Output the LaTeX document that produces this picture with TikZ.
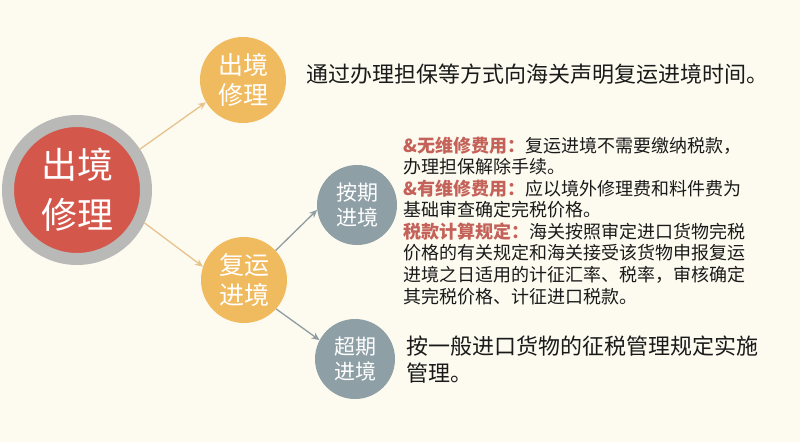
\documentclass[tikz,border=0pt]{standalone}
\usepackage{fontspec}
\newfontfamily\cjk{Noto Sans CJK SC}
\usetikzlibrary{arrows.meta}
\definecolor{bg}{HTML}{FDFBF0}
\definecolor{mainred}{HTML}{D4574B}
\definecolor{ringgray}{HTML}{B9B9B7}
\definecolor{orangec}{HTML}{F0BA5E}
\definecolor{slate}{HTML}{8E9FA6}
\definecolor{tanarrow}{HTML}{E6C28C}
\definecolor{grayarrow}{HTML}{8F9CA1}
\definecolor{labelred}{HTML}{C4625A}
\definecolor{bodytext}{HTML}{1A1A1A}
\begin{document}
\begin{tikzpicture}[x=1pt,y=-1pt,
  bubble/.style={circle,inner sep=0pt,align=center,text=white},
  mainbubble/.style={bubble,fill=mainred,draw=ringgray,line width=12pt,minimum size=138pt,
    font=\cjk\fontsize{36}{50}\selectfont},
  orbubble/.style={bubble,fill=orangec,minimum size=86pt,font=\cjk\fontsize{25}{30}\selectfont},
  slbubble/.style={bubble,fill=slate,minimum size=80pt,font=\cjk\fontsize{21}{25}\selectfont},
  bigtext/.style={anchor=west,inner sep=0pt,text=bodytext,font=\cjk\fontsize{22}{27}\selectfont},
  smalltext/.style={anchor=west,inner sep=0pt,text=bodytext,font=\cjk\fontsize{18}{21.6}\selectfont},
  lab/.style={text=labelred,font=\cjk\bfseries\fontsize{18}{21.6}\selectfont},
  tanarr/.style={draw=tanarrow,line width=1.3pt,-{Stealth[length=8pt,width=7pt]}},
  grayarr/.style={draw=grayarrow,line width=1.3pt,-{Stealth[length=8pt,width=7pt]}}
]
\fill[bg] (0,0) rectangle (800,442);
\useasboundingbox (0,0) rectangle (800,442);

\node[mainbubble] (main) at (77,190) {出境\\修理};
\node[orbubble] (out) at (243,80) {出境\\修理};
\node[orbubble] (back) at (244,280) {复运\\进境};
\node[slbubble] (ontime) at (357,205) {按期\\进境};
\node[slbubble] (late) at (355,359) {超期\\进境};

\draw[tanarr] (main.33) -- (out.211);
\draw[tanarr] (main.-26) -- (back.162);
\draw[grayarr] (back.43) -- (ontime.187);
\draw[grayarr] (back.-42) -- (late.152);

\node[bigtext] (t1) at (306,74) {通过办理担保等方式向海关声明复运进境时间。};

\node[smalltext] (m1) at (403,146) {{\color{labelred}\bfseries \&无维修费用：}复运进境不需要缴纳税款，};
\node[smalltext] (m2) at (403,167) {办理担保解除手续。};
\node[smalltext] (m3) at (403,188.5) {{\color{labelred}\bfseries \&有维修费用：}应以境外修理费和料件费为};
\node[smalltext] (m4) at (403,210) {基础审查确定完税价格。};
\node[smalltext] (m5) at (403,231.5) {{\color{labelred}\bfseries 税款计算规定：}海关按照审定进口货物完税};
\node[smalltext] (m6) at (403,253) {价格的有关规定和海关接受该货物申报复运};
\node[smalltext] (m7) at (403,275) {进境之日适用的计征汇率、税率，审核确定};
\node[smalltext] (m8) at (403,297) {其完税价格、计征进口税款。};

\node[bigtext] (b1) at (406,346) {按一般进口货物的征税管理规定实施};
\node[bigtext] (b2) at (406,373) {管理。};
\end{tikzpicture}
\end{document}
